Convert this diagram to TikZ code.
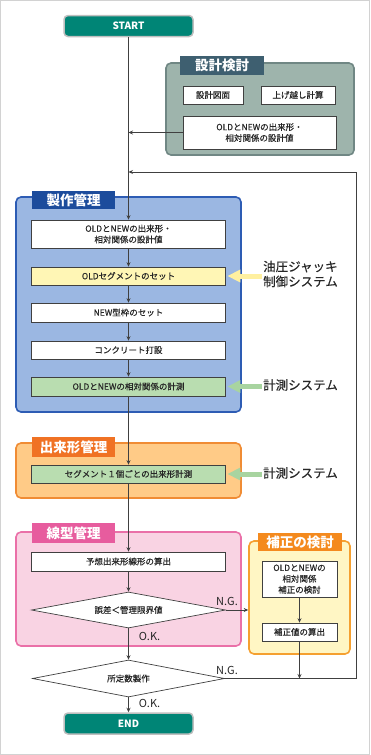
\documentclass[tikz,border=0pt]{standalone}
\usepackage{fontspec}
\setmainfont{Noto Sans CJK JP}
\newfontfamily\medjp{Noto Sans CJK JP}[FakeBold=0.35]
\usetikzlibrary{arrows.meta, shapes.geometric, positioning}
\definecolor{termfill}{RGB}{0,133,118}
\definecolor{skfill}{RGB}{158,180,172}
\definecolor{skline}{RGB}{112,135,132}
\definecolor{sktab}{RGB}{62,95,112}
\definecolor{szfill}{RGB}{155,183,226}
\definecolor{szline}{RGB}{45,92,180}
\definecolor{sztab}{RGB}{28,76,156}
\definecolor{dkfill}{RGB}{255,203,135}
\definecolor{dkline}{RGB}{240,140,52}
\definecolor{dktab}{RGB}{240,114,36}
\definecolor{snfill}{RGB}{249,211,227}
\definecolor{snline}{RGB}{234,112,168}
\definecolor{sntab}{RGB}{231,92,158}
\definecolor{hsfill}{RGB}{255,246,196}
\definecolor{hsline}{RGB}{245,160,48}
\definecolor{hstab}{RGB}{244,138,30}
\definecolor{jackfill}{RGB}{255,246,181}
\definecolor{sokufill}{RGB}{185,221,176}
\definecolor{jackarrow}{RGB}{255,240,160}
\definecolor{sokuarrow}{RGB}{168,212,160}
\tikzset{
  termbox/.style={draw=gray!50, line width=1.5pt, fill=termfill, rounded corners=4pt,
    minimum width=129pt, minimum height=21pt, text=white,
    font=\bfseries\fontsize{10}{11}\selectfont},
  stepbox/.style={draw=black!75, line width=0.7pt, fill=white, minimum width=194pt,
    minimum height=18pt, inner sep=1pt, align=center, text=black!85,
    font=\medjp\fontsize{8.5}{11}\selectfont},
  panelbox/.style 2 args={draw=#1, fill=#2, line width=1.6pt, rounded corners=5pt},
  tabbox/.style={fill=#1, text=white, inner sep=0pt,
    font=\bfseries\fontsize{13.5}{14}\selectfont},
  sidearrow/.style={line width=5pt, draw=#1, -{Triangle[width=12pt,length=13pt]},
    shorten >=1.5pt},
  sidelabel/.style={anchor=west, align=left, text=black!85, inner sep=1pt,
    font=\medjp\fontsize{12.5}{15}\selectfont},
  decision/.style={diamond, draw=black!75, line width=0.7pt, fill=white, aspect=5.4,
    inner sep=0pt, text=black!85, font=\medjp\fontsize{8.5}{10}\selectfont},
  flow/.style={draw=black!75, line width=0.7pt, -{Stealth[length=4.5pt,width=4pt]}},
  verdict/.style={inner sep=1pt, text=black!85, font=\fontsize{11}{12}\selectfont}
}

\begin{document}
\begin{tikzpicture}[x=1pt, y=-1pt]
  \useasboundingbox (0,0) rectangle (370,755);
  \draw[gray!35, line width=1pt] (0.5,0.5) rectangle (369.5,754.5);
  %
  \node[termbox] (start) at (128.5,26) {START};
  %
  \node[panelbox={skline}{skfill}, minimum width=188pt, minimum height=92pt] (skP) at (260,109) {};
  \node[tabbox=sktab, minimum width=84pt, minimum height=19pt] (skT) at (222,65.5) {設計検討};
  \node[stepbox, minimum width=60pt] (sk1) at (213,95) {設計図面};
  \node[stepbox, minimum width=74pt] (sk2) at (298,95) {上げ越し計算};
  \node[stepbox, minimum width=153pt, minimum height=33pt] (sk3) at (259.5,132.5) {OLDとNEWの出来形・\\相対関係の設計値};
  %
  \node[panelbox={szline}{szfill}, minimum width=225pt, minimum height=215pt] (szP) at (128.5,304.5) {};
  \node[tabbox=sztab, minimum width=83pt, minimum height=18pt] (szT) at (73.5,200) {製作管理};
  \node[stepbox, minimum height=28pt] (sz1) at (128.5,234) {OLDとNEWの出来形・\\相対関係の設計値};
  \node[stepbox, fill=jackfill] (sz2) at (128.5,276) {OLDセグメントのセット};
  \node[stepbox, minimum height=19pt] (sz3) at (128.5,312.5) {NEW型枠のセット};
  \node[stepbox] (sz4) at (128.5,350) {コンクリート打設};
  \node[stepbox, fill=sokufill, minimum height=19pt] (sz5) at (128.5,386.5) {OLDとNEWの相対関係の計測};
  \node[sidelabel] (jack) at (262,274) {油圧ジャッキ\\制御システム};
  \node[sidelabel] (soku1) at (262,385) {計測システム};
  %
  \node[panelbox={dkline}{dkfill}, minimum width=225pt, minimum height=55pt] (dkP) at (128.5,470.5) {};
  \node[tabbox=dktab, minimum width=83pt, minimum height=20pt] (dkT) at (73.5,447) {出来形管理};
  \node[stepbox, fill=sokufill] (dk1) at (128.5,474) {セグメント１個ごとの出来形計測};
  \node[sidelabel] (soku2) at (262,473) {計測システム};
  %
  \node[panelbox={snline}{snfill}, minimum width=225pt, minimum height=114pt] (snP) at (128.5,589) {};
  \node[tabbox=sntab, minimum width=83pt, minimum height=20pt] (snT) at (73.5,533) {線型管理};
  \node[stepbox, minimum height=19pt] (sn1) at (128.5,561.5) {予想出来形線形の算出};
  \node[decision, minimum width=194pt, minimum height=36pt] (d1) at (128.5,610) {誤差＜管理限界値};
  %
  \node[panelbox={hsline}{hsfill}, minimum width=101pt, minimum height=113pt] (hsP) at (299.5,597.5) {};
  \node[tabbox=hstab, minimum width=84pt, minimum height=18pt] (hsT) at (300,542) {補正の検討};
  \node[stepbox, minimum width=75pt, minimum height=36pt] (hs1) at (299.5,579) {OLDとNEWの\\相対関係\\補正の検討};
  \node[stepbox, minimum width=75pt] (hs2) at (299.5,632) {補正値の算出};
  %
  \node[decision, minimum width=192pt, minimum height=37pt] (d2) at (128.5,678.5) {所定数製作};
  \node[termbox] (end) at (128.5,723.5) {END};
  %
  \node[verdict] (ng1) at (227,601) {N.G.};
  \node[verdict] (ok1) at (149.5,636) {O.K.};
  \node[verdict] (ng2) at (227,670) {N.G.};
  \node[verdict] (ok2) at (149.5,703) {O.K.};
  %
  \draw[flow] (start.south) -- (sz1.north);
  \draw[flow] (sk3.west) -- (sk3.west -| start.south);
  \foreach \a/\b in {sz1/sz2, sz2/sz3, sz3/sz4, sz4/sz5, sz5/dk1, dk1/sn1, sn1/d1, d1/d2, d2/end}
    \draw[flow] (\a.south) -- (\b.north);
  \draw[flow] (d1.east) -- (d1.east -| hsP.west);
  \draw[flow] (hs1.south) -- (hs2.north);
  \draw[flow] (hs2.south) -- (hs2.south |- d2.east);
  \coordinate (fbTop) at (356,172);
  \draw[flow] (d2.east) -| (fbTop) -- (fbTop -| start.south);
  %
  \draw[sidearrow=jackarrow] (jack.west |- sz2.east) -- (sz2.east);
  \draw[sidearrow=sokuarrow] (soku1.west |- sz5.east) -- (sz5.east);
  \draw[sidearrow=sokuarrow] (soku2.west |- dk1.east) -- (dk1.east);
\end{tikzpicture}
\end{document}
